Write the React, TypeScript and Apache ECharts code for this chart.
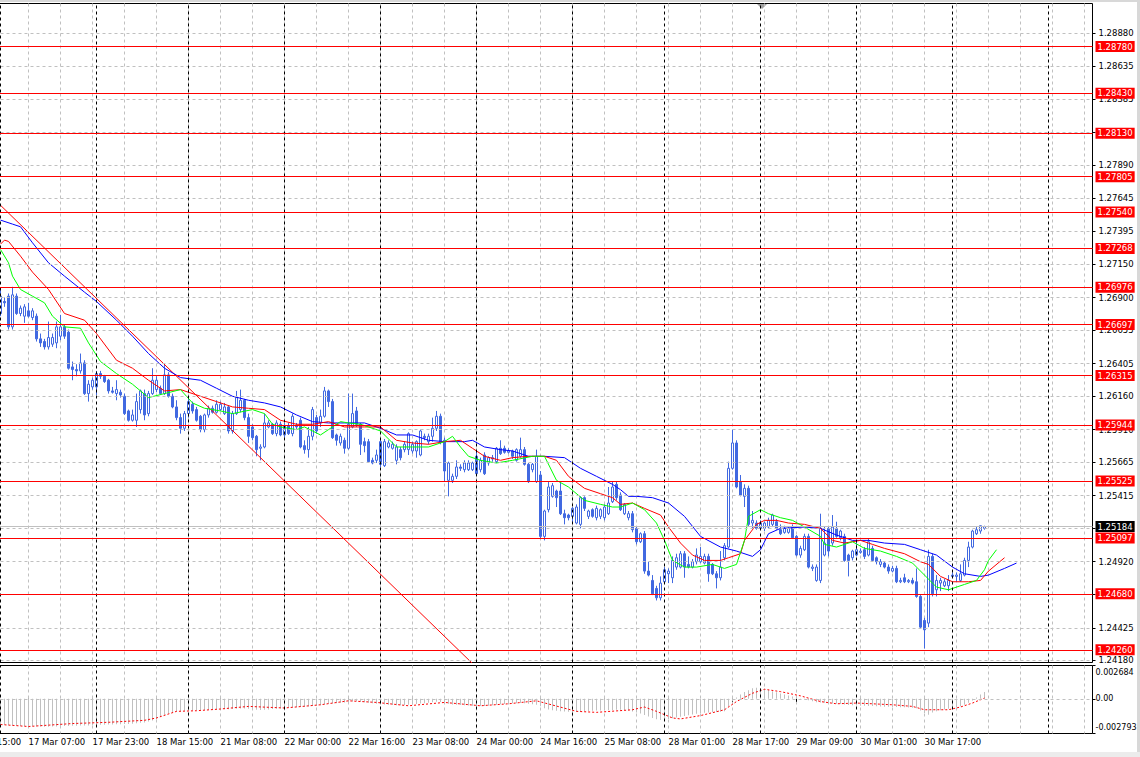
import React, { useEffect, useRef } from "react";
import * as echarts from "echarts";

// ---------- categories (H1 bars) ----------
const SESSIONS: [string, number, number][] = [
  ["16 Mar", 15, 23], ["17 Mar", 0, 23], ["18 Mar", 0, 22], ["21 Mar", 0, 23], ["22 Mar", 0, 23],
  ["23 Mar", 0, 23], ["24 Mar", 0, 23], ["25 Mar", 0, 22], ["28 Mar", 0, 23], ["29 Mar", 0, 23],
  ["30 Mar", 0, 23], ["31 Mar", 0, 23], ["1 Apr", 0, 22],
];
const CATEGORY_COUNT = 283;
const FIRST_BAR = "17 Mar 00:00";

const TIME_LABELS = [
  "16 Mar 15:00", "17 Mar 07:00", "17 Mar 23:00", "18 Mar 15:00", "21 Mar 08:00", "22 Mar 00:00",
  "22 Mar 16:00", "23 Mar 08:00", "24 Mar 00:00", "24 Mar 16:00", "25 Mar 08:00", "28 Mar 01:00",
  "28 Mar 17:00", "29 Mar 09:00", "30 Mar 01:00", "30 Mar 17:00",
];
const DAY_SEPARATORS = [
  "17 Mar 00:00", "18 Mar 00:00", "21 Mar 00:00", "22 Mar 00:00", "23 Mar 00:00", "24 Mar 00:00",
  "25 Mar 00:00", "28 Mar 00:00", "29 Mar 00:00", "30 Mar 00:00", "31 Mar 00:00", "1 Apr 00:00",
];

// ---------- price axis ----------
const PRICE_MIN = 1.24165;
const PRICE_MAX = 1.29103;
const PRICE_GRID = [
  1.2888, 1.28635, 1.28385, 1.2814, 1.2789, 1.27645, 1.27395, 1.2715, 1.269, 1.26655,
  1.26405, 1.2616, 1.2591, 1.25665, 1.25415, 1.2517, 1.2492, 1.24675, 1.24425, 1.2418,
];
const PRICE_LABELS = [
  1.2888, 1.28635, 1.28385, 1.2789, 1.27645, 1.27395, 1.2715, 1.269, 1.26655,
  1.26405, 1.2616, 1.2591, 1.25665, 1.25415, 1.2492, 1.24425, 1.2418,
];
const LEVELS = [
  1.2878, 1.2843, 1.2813, 1.27805, 1.2754, 1.27268, 1.26976, 1.26697, 1.26315,
  1.25944, 1.25525, 1.25097, 1.2468, 1.2426,
];
const CURRENT_PRICE = 1.25184;

// ---------- MACD axis ----------
const MACD_MIN = -0.002793;
const MACD_MAX = 0.002684;
const MACD_LABELS: [number, string][] = [[0.002684, "0.002684"], [0, "0.00"], [-0.002793, "-0.002793"]];

// ---------- candles: [open, high, low, close], from 17 Mar 00:00 ----------
const CANDLES: number[][] = [
  [1.2678,1.2696,1.2676,1.2691],[1.2687,1.2690,1.2683,1.2686],[1.2691,1.2693,1.2666,1.2668],[1.2668,1.2698,1.2666,1.2692],[1.2691,1.2693,1.2677,1.2678],
  [1.2678,1.2684,1.2676,1.2682],[1.2676,1.2685,1.2671,1.2683],[1.2680,1.2686,1.2675,1.2676],[1.2675,1.2682,1.2673,1.2680],[1.2676,1.2678,1.2657,1.2659],
  [1.2659,1.2663,1.2653,1.2656],[1.2657,1.2659,1.2651,1.2653],[1.2653,1.2672,1.2651,1.2660],[1.2655,1.2663,1.2653,1.2660],[1.2656,1.2672,1.2652,1.2668],
  [1.2661,1.2677,1.2658,1.2668],[1.2668,1.2670,1.2659,1.2661],[1.2664,1.2666,1.2636,1.2637],[1.2638,1.2642,1.2628,1.2636],[1.2636,1.2640,1.2631,1.2635],
  [1.2635,1.2648,1.2633,1.2641],[1.2641,1.2643,1.2617,1.2618],[1.2618,1.2628,1.2612,1.2625],[1.2623,1.2630,1.2621,1.2628],[1.2623,1.2635,1.2617,1.2633],
  [1.2633,1.2635,1.2629,1.2631],[1.2631,1.2632,1.2626,1.2627],[1.2628,1.2629,1.2618,1.2620],[1.2620,1.2623,1.2618,1.2619],[1.2618,1.2628,1.2613,1.2621],
  [1.2619,1.2621,1.2615,1.2617],[1.2616,1.2618,1.2602,1.2603],[1.2605,1.2606,1.2597,1.2598],[1.2598,1.2606,1.2597,1.2602],[1.2598,1.2618,1.2593,1.2612],
  [1.2606,1.2621,1.2603,1.2620],[1.2618,1.2621,1.2598,1.2602],[1.2603,1.2620,1.2601,1.2618],[1.2618,1.2637,1.2617,1.2628],[1.2621,1.2631,1.2619,1.2628],
  [1.2622,1.2624,1.2617,1.2618],[1.2618,1.2640,1.2617,1.2632],[1.2632,1.2634,1.2615,1.2616],[1.2616,1.2618,1.2607,1.2608],[1.2608,1.2613,1.2598,1.2600],
  [1.2600,1.2603,1.2588,1.2592],[1.2592,1.2605,1.2590,1.2603],[1.2603,1.2614,1.2600,1.2612],[1.2610,1.2612,1.2603,1.2605],[1.2606,1.2608,1.2597,1.2598],
  [1.2601,1.2602,1.2589,1.2591],[1.2591,1.2603,1.2589,1.2602],[1.2602,1.2609,1.2600,1.2607],[1.2607,1.2609,1.2603,1.2604],[1.2604,1.2613,1.2603,1.2610],
  [1.2606,1.2612,1.2605,1.2610],[1.2603,1.2611,1.2602,1.2608],[1.2608,1.2609,1.2588,1.2590],[1.2590,1.2605,1.2588,1.2603],[1.2603,1.2620,1.2602,1.2615],
  [1.2606,1.2621,1.2604,1.2613],[1.2613,1.2614,1.2598,1.2600],[1.2600,1.2603,1.2581,1.2586],[1.2593,1.2595,1.2583,1.2585],[1.2586,1.2587,1.2571,1.2576],
  [1.2577,1.2580,1.2568,1.2578],[1.2578,1.2603,1.2577,1.2596],[1.2593,1.2598,1.2592,1.2596],[1.2595,1.2596,1.2587,1.2588],[1.2588,1.2598,1.2586,1.2596],
  [1.2595,1.2597,1.2586,1.2587],[1.2587,1.2596,1.2585,1.2594],[1.2594,1.2596,1.2587,1.2588],[1.2588,1.2603,1.2586,1.2601],[1.2594,1.2596,1.2591,1.2593],
  [1.2598,1.2600,1.2577,1.2578],[1.2579,1.2583,1.2573,1.2576],[1.2576,1.2593,1.2570,1.2586],[1.2586,1.2608,1.2583,1.2606],[1.2600,1.2602,1.2588,1.2590],
  [1.2596,1.2606,1.2593,1.2601],[1.2601,1.2623,1.2600,1.2620],[1.2620,1.2621,1.2608,1.2612],[1.2612,1.2614,1.2584,1.2585],[1.2587,1.2588,1.2579,1.2583],
  [1.2581,1.2588,1.2579,1.2586],[1.2583,1.2585,1.2573,1.2577],[1.2577,1.2618,1.2576,1.2595],[1.2593,1.2618,1.2592,1.2603],[1.2605,1.2608,1.2593,1.2595],
  [1.2595,1.2596,1.2572,1.2580],[1.2582,1.2585,1.2574,1.2579],[1.2582,1.2584,1.2566,1.2567],[1.2568,1.2570,1.2565,1.2566],[1.2568,1.2576,1.2566,1.2572],
  [1.2582,1.2584,1.2563,1.2565],[1.2564,1.2584,1.2563,1.2582],[1.2578,1.2583,1.2577,1.2581],[1.2577,1.2582,1.2576,1.2580],[1.2568,1.2580,1.2565,1.2578],
  [1.2576,1.2578,1.2568,1.2570],[1.2576,1.2582,1.2574,1.2580],[1.2576,1.2589,1.2572,1.2588],[1.2575,1.2582,1.2573,1.2580],[1.2575,1.2583,1.2570,1.2582],
  [1.2572,1.2591,1.2571,1.2590],[1.2586,1.2588,1.2583,1.2585],[1.2582,1.2588,1.2580,1.2586],[1.2586,1.2600,1.2582,1.2592],[1.2592,1.2605,1.2590,1.2601],
  [1.2601,1.2603,1.2580,1.2582],[1.2583,1.2585,1.2552,1.2560],[1.2553,1.2567,1.2541,1.2566],[1.2553,1.2558,1.2551,1.2556],[1.2556,1.2568,1.2554,1.2563],
  [1.2563,1.2565,1.2560,1.2562],[1.2561,1.2568,1.2559,1.2566],[1.2561,1.2568,1.2560,1.2566],[1.2561,1.2567,1.2560,1.2566],[1.2571,1.2575,1.2558,1.2558],
  [1.2561,1.2570,1.2559,1.2568],[1.2572,1.2574,1.2557,1.2558],[1.2566,1.2571,1.2564,1.2570],[1.2569,1.2572,1.2567,1.2570],[1.2567,1.2578,1.2566,1.2577],
  [1.2577,1.2583,1.2572,1.2573],[1.2577,1.2579,1.2573,1.2574],[1.2574,1.2577,1.2573,1.2575],[1.2575,1.2576,1.2569,1.2571],[1.2568,1.2577,1.2567,1.2576],
  [1.2571,1.2585,1.2570,1.2576],[1.2576,1.2578,1.2564,1.2565],[1.2565,1.2566,1.2551,1.2552],[1.2561,1.2566,1.2559,1.2565],[1.2552,1.2576,1.2551,1.2571],
  [1.2557,1.2560,1.2509,1.2511],[1.2511,1.2531,1.2508,1.2530],[1.2531,1.2552,1.2529,1.2548],[1.2541,1.2551,1.2540,1.2549],[1.2545,1.2546,1.2533,1.2540],
  [1.2545,1.2551,1.2527,1.2528],[1.2528,1.2531,1.2520,1.2525],[1.2527,1.2528,1.2523,1.2525],[1.2526,1.2533,1.2521,1.2532],[1.2521,1.2535,1.2520,1.2533],
  [1.2520,1.2541,1.2517,1.2540],[1.2540,1.2541,1.2530,1.2532],[1.2526,1.2531,1.2524,1.2530],[1.2531,1.2532,1.2525,1.2526],[1.2525,1.2534,1.2523,1.2532],
  [1.2526,1.2532,1.2524,1.2531],[1.2525,1.2535,1.2523,1.2533],[1.2528,1.2548,1.2527,1.2536],[1.2537,1.2552,1.2536,1.2548],[1.2550,1.2552,1.2538,1.2540],
  [1.2542,1.2544,1.2530,1.2531],[1.2528,1.2536,1.2527,1.2535],[1.2525,1.2530,1.2523,1.2528],[1.2528,1.2530,1.2514,1.2516],[1.2517,1.2518,1.2505,1.2507],
  [1.2507,1.2514,1.2506,1.2513],[1.2513,1.2515,1.2483,1.2485],[1.2485,1.2492,1.2481,1.2482],[1.2478,1.2482,1.2467,1.2468],[1.2472,1.2474,1.2463,1.2465],
  [1.2465,1.2481,1.2463,1.2476],[1.2477,1.2488,1.2476,1.2486],[1.2483,1.2487,1.2476,1.2485],[1.2480,1.2496,1.2476,1.2493],[1.2488,1.2498,1.2486,1.2495],
  [1.2488,1.2500,1.2487,1.2498],[1.2498,1.2500,1.2480,1.2488],[1.2490,1.2496,1.2487,1.2488],[1.2488,1.2494,1.2487,1.2492],[1.2492,1.2502,1.2490,1.2497],
  [1.2492,1.2503,1.2491,1.2496],[1.2491,1.2498,1.2490,1.2496],[1.2496,1.2498,1.2477,1.2483],[1.2490,1.2491,1.2482,1.2483],[1.2483,1.2485,1.2472,1.2480],
  [1.2480,1.2500,1.2478,1.2488],[1.2495,1.2506,1.2493,1.2504],[1.2503,1.2567,1.2502,1.2562],[1.2562,1.2591,1.2561,1.2581],[1.2581,1.2583,1.2547,1.2548],
  [1.2552,1.2557,1.2541,1.2542],[1.2541,1.2550,1.2533,1.2547],[1.2547,1.2549,1.2518,1.2520],[1.2521,1.2530,1.2517,1.2523],[1.2521,1.2523,1.2516,1.2517],
  [1.2517,1.2523,1.2516,1.2521],[1.2517,1.2522,1.2515,1.2521],[1.2518,1.2525,1.2517,1.2523],[1.2520,1.2528,1.2518,1.2527],[1.2522,1.2524,1.2516,1.2517],
  [1.2516,1.2520,1.2512,1.2513],[1.2514,1.2519,1.2513,1.2517],[1.2514,1.2518,1.2513,1.2517],[1.2518,1.2520,1.2509,1.2510],[1.2511,1.2512,1.2496,1.2497],
  [1.2497,1.2504,1.2495,1.2502],[1.2501,1.2513,1.2500,1.2511],[1.2511,1.2513,1.2487,1.2488],[1.2487,1.2490,1.2485,1.2488],[1.2478,1.2490,1.2477,1.2488],
  [1.2478,1.2528,1.2476,1.2517],[1.2497,1.2518,1.2496,1.2506],[1.2517,1.2518,1.2496,1.2500],[1.2506,1.2527,1.2504,1.2518],[1.2517,1.2522,1.2510,1.2511],
  [1.2510,1.2516,1.2508,1.2515],[1.2511,1.2513,1.2492,1.2493],[1.2497,1.2498,1.2481,1.2493],[1.2495,1.2501,1.2493,1.2500],[1.2497,1.2508,1.2496,1.2501],
  [1.2499,1.2502,1.2498,1.2500],[1.2501,1.2503,1.2494,1.2496],[1.2497,1.2509,1.2496,1.2507],[1.2502,1.2504,1.2492,1.2493],[1.2495,1.2496,1.2490,1.2492],
  [1.2490,1.2494,1.2488,1.2492],[1.2491,1.2492,1.2487,1.2488],[1.2488,1.2490,1.2483,1.2485],[1.2485,1.2489,1.2484,1.2487],[1.2487,1.2489,1.2476,1.2477],
  [1.2477,1.2480,1.2476,1.2478],[1.2480,1.2483,1.2476,1.2477],[1.2477,1.2479,1.2476,1.2478],[1.2478,1.2480,1.2475,1.2476],[1.2477,1.2487,1.2465,1.2466],
  [1.2466,1.2467,1.2442,1.2443],[1.2448,1.2450,1.2427,1.2441],[1.2446,1.2501,1.2443,1.2496],[1.2496,1.2498,1.2466,1.2468],[1.2471,1.2482,1.2466,1.2478],
  [1.2476,1.2480,1.2470,1.2478],[1.2474,1.2479,1.2473,1.2477],[1.2474,1.2482,1.2470,1.2478],[1.2481,1.2484,1.2480,1.2482],[1.2481,1.2484,1.2477,1.2482],
  [1.2478,1.2490,1.2477,1.2483],[1.2482,1.2495,1.2481,1.2493],[1.2493,1.2507,1.2488,1.2503],[1.2503,1.2516,1.2502,1.2515],[1.2513,1.2518,1.2512,1.2516],
  [1.2515,1.2519,1.2513,1.2519],[1.2517,1.2519,1.2516,1.25184],
];

// ---------- Alligator lines: [bar index from 17 Mar 00:00, price] ----------
const JAW_BLUE: number[][] = [
  [0,1.2748],[3,1.2745],[5,1.2743],[8,1.2731],[12,1.2716],[16,1.2706],[21,1.2694],[24,1.2687],[29,1.2673],[33,1.2661],
  [37,1.2648],[41,1.2637],[45,1.2630],[50,1.2628],[54,1.2622],[58,1.2616],[62,1.2613],[66,1.2611],[70,1.2608],[74,1.2602],
  [78,1.2597],[82,1.2596],[86,1.2596],[91,1.2596],[95,1.2592],[99,1.2587],[103,1.2587],[107,1.2583],[111,1.2582],[116,1.2582],
  [118,1.2583],[121,1.2578],[125,1.2576],[128,1.2575],[132,1.2571],[136,1.2571],[141,1.2570],[145,1.2562],[149,1.2556],[153,1.2550],
  [155,1.2546],[157,1.2541],[159,1.2541],[163,1.2540],[167,1.2536],[171,1.2526],[175,1.2511],[180,1.2503],[184,1.2500],[188,1.2496],
  [190,1.2501],[192,1.2513],[195,1.2517],[201,1.2518],[205,1.2517],[209,1.2512],[213,1.2508],[217,1.2508],[221,1.2506],[226,1.2505],
  [230,1.2501],[234,1.2497],[238,1.2488],[241,1.2483],[245,1.2481],[247,1.2482],[251,1.2487],[254,1.2491],
];
const TEETH_RED: number[][] = [
  [0,1.2730],[1,1.2733],[2,1.2732],[5,1.2721],[8,1.2709],[12,1.2696],[16,1.2678],[21,1.2673],[24,1.2663],[29,1.2643],
  [33,1.2637],[37,1.2628],[41,1.2620],[45,1.2621],[50,1.2616],[54,1.2612],[58,1.2608],[62,1.2607],[66,1.2606],[70,1.2598],
  [74,1.2595],[78,1.2595],[82,1.2597],[86,1.2593],[91,1.2593],[95,1.2593],[99,1.2583],[103,1.2581],[107,1.2580],[111,1.2582],
  [115,1.2583],[118,1.2577],[121,1.2571],[125,1.2568],[128,1.2570],[132,1.2571],[136,1.2571],[139,1.2568],[142,1.2556],[146,1.2547],
  [150,1.2543],[153,1.2540],[155,1.2535],[158,1.2536],[161,1.2532],[165,1.2527],[167,1.2518],[170,1.2506],[173,1.2497],[176,1.2493],
  [180,1.2493],[182,1.2495],[185,1.2498],[186,1.2508],[189,1.2520],[191,1.2523],[194,1.2523],[197,1.2521],[201,1.2520],[205,1.2517],
  [208,1.2508],[211,1.2506],[215,1.2508],[218,1.2505],[221,1.2502],[226,1.2498],[230,1.2492],[232,1.2490],[235,1.2481],[238,1.2477],
  [242,1.2477],[245,1.2478],[247,1.2485],[251,1.2495],
];
const LIPS_GREEN: number[][] = [
  [0,1.2726],[2,1.2716],[3,1.2706],[5,1.2696],[8,1.2691],[11,1.2686],[13,1.2676],[16,1.2668],[20,1.2667],[22,1.2656],
  [25,1.2642],[29,1.2633],[33,1.2625],[37,1.2615],[41,1.2618],[45,1.2621],[48,1.2611],[51,1.2607],[55,1.2605],[58,1.2603],
  [63,1.2606],[66,1.2603],[68,1.2595],[70,1.2593],[74,1.2591],[76,1.2593],[80,1.2587],[82,1.2591],[85,1.2597],[87,1.2596],
  [90,1.2595],[92,1.2593],[95,1.2590],[99,1.2578],[103,1.2578],[107,1.2578],[111,1.2582],[113,1.2586],[115,1.2578],[117,1.2571],
  [120,1.2568],[124,1.2566],[128,1.2568],[133,1.2571],[136,1.2571],[139,1.2553],[142,1.2548],[146,1.2538],[150,1.2535],[153,1.2533],
  [155,1.2533],[158,1.2536],[161,1.2531],[164,1.2521],[166,1.2508],[168,1.2493],[171,1.2488],[174,1.2488],[178,1.2490],[181,1.2487],
  [184,1.2490],[186,1.2508],[187,1.2526],[190,1.2531],[192,1.2528],[195,1.2525],[198,1.2523],[201,1.2518],[205,1.2511],[206,1.2505],
  [209,1.2503],[213,1.2507],[216,1.2502],[220,1.2500],[224,1.2496],[228,1.2491],[231,1.2482],[234,1.2473],[237,1.2471],[241,1.2475],
  [244,1.2478],[246,1.2486],[247,1.2493],[249,1.2501],
];

// trend line: [bar index from 17 Mar 00:00, price]
const TREND_LINE: number[][] = [[-9, 1.27853], [118, 1.24157]];

// ---------- MACD ----------
const MACD_HIST: number[] = [
  -0.00205,-0.00208,-0.00212,-0.00215,-0.00217,-0.00219,-0.00220,-0.00221,-0.00221,-0.00222,
  -0.00223,-0.00224,-0.00224,-0.00223,-0.00222,-0.00220,-0.00219,-0.00218,-0.00217,-0.00216,
  -0.00215,-0.00215,-0.00214,-0.00212,-0.00210,-0.00209,-0.00208,-0.00207,-0.00206,-0.00205,
  -0.00204,-0.00203,-0.00202,-0.00200,-0.00197,-0.00193,-0.00190,-0.00183,-0.00175,-0.00165,
  -0.00140,-0.00128,-0.00118,-0.00110,-0.00104,-0.00100,-0.00097,-0.00095,-0.00093,-0.00092,
  -0.00091,-0.00090,-0.00089,-0.00088,-0.00086,-0.00085,-0.00084,-0.00084,-0.00082,-0.00080,
  -0.00078,-0.00078,-0.00080,-0.00084,-0.00088,-0.00090,-0.00088,-0.00085,-0.00082,-0.00080,
  -0.00078,-0.00075,-0.00072,-0.00070,-0.00068,-0.00066,-0.00065,-0.00062,-0.00058,-0.00055,
  -0.00052,-0.00046,-0.00040,-0.00038,-0.00035,-0.00032,-0.00030,-0.00026,-0.00022,-0.00020,
  -0.00024,-0.00028,-0.00032,-0.00036,-0.00040,-0.00044,-0.00046,-0.00048,-0.00050,-0.00052,
  -0.00052,-0.00050,-0.00047,-0.00045,-0.00042,-0.00038,-0.00035,-0.00032,-0.00028,-0.00024,
  -0.00026,-0.00034,-0.00040,-0.00045,-0.00048,-0.00050,-0.00052,-0.00054,-0.00056,-0.00058,
  -0.00058,-0.00057,-0.00055,-0.00052,-0.00048,-0.00044,-0.00041,-0.00038,-0.00036,-0.00035,
  -0.00034,-0.00036,-0.00040,-0.00044,-0.00048,-0.00060,-0.00075,-0.00085,-0.00092,-0.00096,
  -0.00100,-0.00103,-0.00105,-0.00106,-0.00106,-0.00104,-0.00100,-0.00098,-0.00096,-0.00095,
  -0.00094,-0.00093,-0.00092,-0.00090,-0.00088,-0.00088,-0.00090,-0.00095,-0.00102,-0.00110,
  -0.00118,-0.00130,-0.00142,-0.00155,-0.00165,-0.00170,-0.00168,-0.00162,-0.00156,-0.00150,
  -0.00144,-0.00138,-0.00132,-0.00126,-0.00120,-0.00116,-0.00112,-0.00110,-0.00108,-0.00106,
  -0.00104,-0.00100,-0.00060,-0.00020,0.00010,0.00035,0.00055,0.00070,0.00085,0.00090,
  0.00088,0.00082,0.00072,0.00062,0.00052,0.00042,0.00034,0.00026,0.00018,0.00010,
  0.00002,-0.00005,-0.00012,-0.00020,-0.00028,-0.00030,-0.00032,-0.00036,-0.00038,-0.00040,
  -0.00042,-0.00046,-0.00050,-0.00052,-0.00054,-0.00055,-0.00056,-0.00057,-0.00058,-0.00060,
  -0.00062,-0.00063,-0.00064,-0.00065,-0.00066,-0.00067,-0.00068,-0.00070,-0.00072,-0.00076,
  -0.00095,-0.00115,-0.00128,-0.00110,-0.00100,-0.00092,-0.00085,-0.00080,-0.00074,-0.00068,
  -0.00060,-0.00048,-0.00032,-0.00014,0.00010,0.00035,0.00055,
];
const MACD_SIGNAL: number[][] = [
  [0,-0.00207],[7,-0.00223],[18,-0.00199],[27,-0.00189],[36,-0.00173],[39,-0.00154],[44,-0.00101],[49,-0.00096],
  [55,-0.00082],[62,-0.00061],[71,-0.00074],[80,-0.00048],[87,-0.00016],[94,-0.00029],[102,-0.00056],[111,-0.00029],
  [120,-0.00056],[127,-0.0004],[134,-0.00016],[140,-0.00067],[144,-0.00101],[149,-0.00109],[158,-0.00088],[161,-0.00066],
  [164,-0.00101],[168,-0.00154],[170,-0.00162],[175,-0.00135],[181,-0.00088],[184,-0.00022],[188,0.00045],[191,0.00077],
  [195,0.00058],[200,0.00024],[205,-0.00022],[209,-0.0004],[214,-0.00034],[218,-0.0004],[223,-0.00048],[228,-0.00061],
  [231,-0.00088],[237,-0.00088],[240,-0.00066],[243,-0.00034],[246,0.00006],
];

const FONT = "DejaVu Sans";
const FS = 8.5;

function buildCategories(): string[] {
  const out: string[] = [];
  for (const [d, h0, h1] of SESSIONS) {
    for (let h = h0; h <= h1; h++) out.push(`${d} ${h < 10 ? "0" + h : h}:00`);
  }
  return out.slice(0, CATEGORY_COUNT);
}

function buildOption() {
  const cats = buildCategories();
  const off = cats.indexOf(FIRST_BAR);
  const labelSet = new Set(TIME_LABELS);
  const empties = (n: number) => Array.from({ length: n }, () => "-");
  const shift = (arr: number[][]) => arr.map(([j, v]) => [j + off, v]);
  const candleData = [...empties(off), ...CANDLES.map(([o, h, l, c]) => [o, c, l, h])];
  const histData = [...empties(off), ...MACD_HIST];
  const dashGray = { color: "#C0C0C0", type: [3, 3], width: 1 };
  const dashBlack = { color: "#000000", type: [3, 3], width: 1 };
  const sepMarks = DAY_SEPARATORS.map((d) => ({ xAxis: d, lineStyle: dashBlack }));
  const showLabel = (_i: number, v: string) => labelSet.has(v);

  const baseX = {
    type: "category",
    data: cats,
    boundaryGap: false,
    axisLine: { show: false },
    splitLine: { show: true, interval: 7, lineStyle: dashGray },
  };

  return {
    animation: false,
    backgroundColor: "#FFFFFF",
    textStyle: { fontFamily: FONT },
    grid: [
      { left: -35.5, top: 3.5, width: 1128, height: 659, show: true, borderColor: "#000", borderWidth: 1, containLabel: false, outerBoundsMode: "none" },
      { left: -35.5, top: 665.5, width: 1128, height: 68, show: true, borderColor: "#000", borderWidth: 1, containLabel: false, outerBoundsMode: "none" },
    ],
    xAxis: [
      { ...baseX, gridIndex: 0, axisTick: { show: false }, axisLabel: { show: false } },
      {
        ...baseX,
        gridIndex: 1,
        axisTick: { show: true, interval: showLabel, length: 3, lineStyle: { color: "#000" } },
        axisLabel: { show: true, interval: showLabel, align: "left", margin: 4, color: "#000", fontFamily: FONT, fontSize: FS },
      },
    ],
    yAxis: [
      {
        type: "value", gridIndex: 0, position: "right", min: PRICE_MIN, max: PRICE_MAX,
        axisLine: { show: false }, splitLine: { show: false },
        axisTick: { show: true, customValues: PRICE_GRID, length: 3, lineStyle: { color: "#000" } },
        axisLabel: {
          show: true, customValues: PRICE_LABELS, margin: 6, color: "#000", fontFamily: FONT, fontSize: FS,
          formatter: (v: number) => v.toFixed(5),
        },
      },
      {
        type: "value", gridIndex: 1, position: "right", min: MACD_MIN, max: MACD_MAX,
        axisLine: { show: false }, splitLine: { show: false },
        axisTick: { show: true, customValues: MACD_LABELS.map((m) => m[0]), length: 3, lineStyle: { color: "#000" } },
        axisLabel: {
          show: true, customValues: MACD_LABELS.map((m) => m[0]), margin: 3, color: "#000", fontFamily: FONT, fontSize: 8,
          formatter: (v: number) => {
            const m = MACD_LABELS.reduce((a, b) => (Math.abs(b[0] - v) < Math.abs(a[0] - v) ? b : a));
            if (m[0] > 0) return `{t|${m[1]}}`;
            if (m[0] < 0) return `{b|${m[1]}}`;
            return `{m|${m[1]}}`;
          },
          rich: {
            t: { padding: [13, 0, 0, 0], fontFamily: FONT, fontSize: 8, color: "#000" },
            b: { padding: [0, 0, 13, 0], fontFamily: FONT, fontSize: 8, color: "#000" },
            m: { fontFamily: FONT, fontSize: 8, color: "#000" },
          },
        },
      },
    ],
    series: [
      {
        name: "grid", type: "line", xAxisIndex: 0, yAxisIndex: 0, data: [], z: 1, silent: true,
        markLine: {
          silent: true, symbol: ["none", "none"], animation: false, precision: 6, label: { show: false },
          lineStyle: dashGray,
          data: [...PRICE_GRID.map((v) => ({ yAxis: v })), ...sepMarks],
        },
      },
      {
        name: "GBPUSD,H1", type: "candlestick", xAxisIndex: 0, yAxisIndex: 0, data: candleData, z: 2,
        barWidth: 2,
        itemStyle: { color: "#FFFFFF", color0: "#4169E1", borderColor: "#4169E1", borderColor0: "#4169E1", borderWidth: 1 },
      },
      {
        name: "trend", type: "line", xAxisIndex: 0, yAxisIndex: 0, data: shift(TREND_LINE), z: 3,
        symbol: "none", lineStyle: { color: "#FF0000", width: 1 }, clip: true,
      },
      {
        name: "Jaw", type: "line", xAxisIndex: 0, yAxisIndex: 0, data: shift(JAW_BLUE), z: 4,
        symbol: "none", lineStyle: { color: "#0000FF", width: 1 },
      },
      {
        name: "Teeth", type: "line", xAxisIndex: 0, yAxisIndex: 0, data: shift(TEETH_RED), z: 4,
        symbol: "none", lineStyle: { color: "#FF0000", width: 1 },
      },
      {
        name: "Lips", type: "line", xAxisIndex: 0, yAxisIndex: 0, data: shift(LIPS_GREEN), z: 4,
        symbol: "none", lineStyle: { color: "#00FF00", width: 1 },
      },
      {
        name: "levels", type: "line", xAxisIndex: 0, yAxisIndex: 0, data: [], z: 5, silent: true,
        markLine: {
          silent: true, symbol: ["none", "none"], animation: false, precision: 6,
          lineStyle: { color: "#FF0000", type: "solid", width: 1 },
          label: {
            show: true, position: "end", distance: 3, color: "#FFFFFF", backgroundColor: "#FF0000",
            padding: [1, 2, 0, 2], fontFamily: FONT, fontSize: FS, lineHeight: 10,
            formatter: (p: any) => Number(p.value).toFixed(5),
          },
          data: [
            ...LEVELS.map((v) => ({ yAxis: v })),
            { yAxis: CURRENT_PRICE, lineStyle: { color: "#C0C0C0", type: "solid", width: 1 }, label: { backgroundColor: "#000000" } },
          ],
        },
      },
      {
        name: "macdGrid", type: "line", xAxisIndex: 1, yAxisIndex: 1, data: [], z: 1, silent: true,
        markLine: {
          silent: true, symbol: ["none", "none"], animation: false, precision: 6, label: { show: false },
          lineStyle: dashGray,
          data: [{ yAxis: 0 }, ...sepMarks],
        },
      },
      {
        name: "MACD", type: "bar", xAxisIndex: 1, yAxisIndex: 1, data: histData, z: 2,
        barWidth: 1, itemStyle: { color: "#C0C0C0" },
      },
      {
        name: "Signal", type: "line", xAxisIndex: 1, yAxisIndex: 1, data: shift(MACD_SIGNAL), z: 3,
        symbol: "none", lineStyle: { color: "#FF0000", width: 1, type: [2, 2] },
      },
    ],
    graphic: [
      { type: "rect", shape: { x: 0, y: 0, width: 1140, height: 2 }, style: { fill: "#D8D8D8" }, silent: true },
      { type: "rect", shape: { x: 1137, y: 0, width: 3, height: 757 }, style: { fill: "#D8D8D8" }, silent: true },
      { type: "rect", shape: { x: 0, y: 752, width: 1140, height: 5 }, style: { fill: "#ECECEC" }, silent: true },
      { type: "polygon", shape: { points: [[757, 4], [767, 4], [762, 9]] }, style: { fill: "#A0A0A0" }, silent: true },
    ],
  };
}

export default function App() {
  const ref = useRef<HTMLDivElement>(null);
  useEffect(() => {
    if (!ref.current) return;
    const chart = echarts.init(ref.current, null, { renderer: "svg" });
    chart.setOption(buildOption() as any);
    return () => chart.dispose();
  }, []);
  return (
    <div
      ref={ref}
      style={{ position: "fixed", left: 0, top: 0, width: 1140, height: 757, background: "#FFFFFF" }}
    />
  );
}
